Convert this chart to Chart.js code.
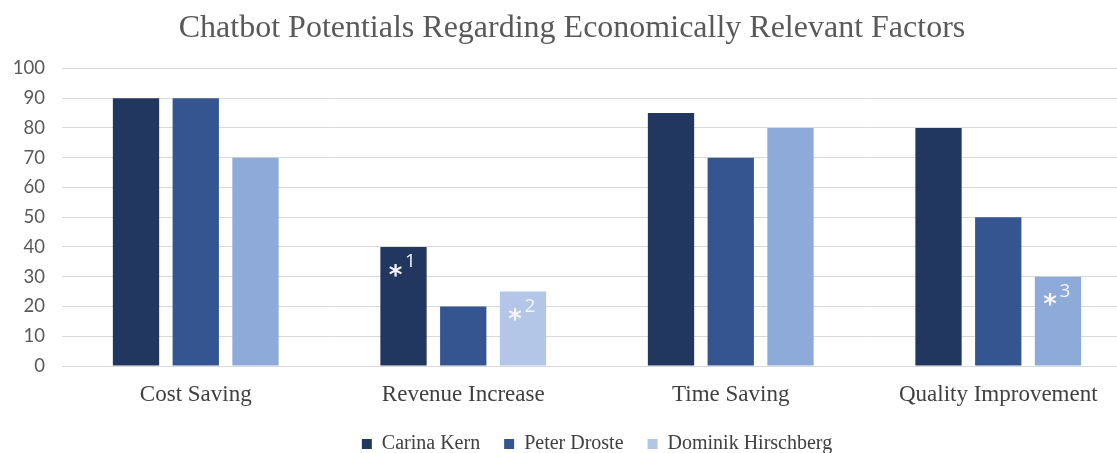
<!DOCTYPE html>
<html>
<head>
<meta charset="utf-8">
<script src="https://cdn.jsdelivr.net/npm/chart.js@4/dist/chart.umd.min.js"></script>
<style>
  html, body { margin: 0; padding: 0; background: #ffffff; overflow: hidden; }
  #wrap { width: 1132px; height: 453px; position: relative; }
</style>
</head>
<body>
<div id="wrap"><canvas id="chart"></canvas></div>
<script>
// Categories and scores per interviewee
const categories = ['Cost Saving', 'Revenue Increase', 'Time Saving', 'Quality Improvement'];
const carinaKern = [90, 40, 85, 80];
const peterDroste = [90, 20, 70, 50];
const dominikHirschberg = [70, 25, 80, 30];
const seriesNames = ['Carina Kern', 'Peter Droste', 'Dominik Hirschberg'];
const yTicks = [0, 10, 20, 30, 40, 50, 60, 70, 80, 90, 100];

// Footnote markers placed on specific bars: [datasetIndex, categoryIndex, number]
const footnotes = [[0, 1, '1'], [2, 1, '2'], [2, 3, '3']];

const colors = {
  carina: '#22375f',
  peter: '#355591',
  dominik: '#8eaad9',
  dominikLight: '#b4c6e7'
};

const footnotePlugin = {
  id: 'footnotes',
  afterDatasetsDraw(chart) {
    const ctx = chart.ctx;
    ctx.save();
    ctx.fillStyle = '#f4f4f4';
    ctx.textBaseline = 'middle';
    footnotes.forEach(([ds, idx, num]) => {
      const bar = chart.getDatasetMeta(ds).data[idx];
      const cx = bar.x, top = bar.y;
      ctx.textAlign = 'center';
      ctx.font = 'bold 26px "DejaVu Sans", sans-serif';
      ctx.fillText('*', cx - 8, top + 30);
      ctx.font = '19px "Open Sans", sans-serif';
      ctx.fillText(num, cx + 7, top + 15);
    });
    ctx.restore();
  }
};

new Chart(document.getElementById('chart'), {
  type: 'bar',
  data: {
    labels: categories,
    datasets: [
      { label: seriesNames[0], data: carinaKern, backgroundColor: colors.carina },
      { label: seriesNames[1], data: peterDroste, backgroundColor: colors.peter },
      { label: seriesNames[2], data: dominikHirschberg,
        backgroundColor: [colors.dominik, colors.dominikLight, colors.dominik, colors.dominik] }
    ]
  },
  options: {
    responsive: true,
    maintainAspectRatio: false,
    animation: false,
    datasets: { bar: { categoryPercentage: 0.67, barPercentage: 0.775 } },
    layout: { padding: { left: 12, right: 0, top: 0, bottom: -11 } },
    plugins: {
      title: {
        display: true,
        text: 'Chatbot Potentials Regarding Economically Relevant Factors',
        color: '#595959',
        font: { family: '"Liberation Serif", serif', size: 32, weight: 'normal' },
        padding: { top: 9, bottom: 21 },
        align: 'center',
        fullSize: true
      },
      legend: {
        position: 'bottom',
        fullSize: false,
        labels: {
          color: '#404040',
          font: { family: '"Liberation Serif", serif', size: 20 },
          boxWidth: 10, boxHeight: 10, padding: 24,
          generateLabels(chart) {
            const fills = [colors.carina, colors.peter, colors.dominikLight];
            return chart.data.datasets.map((d, i) => ({
              text: d.label, fillStyle: fills[i], strokeStyle: fills[i],
              lineWidth: 0, hidden: false, datasetIndex: i, fontColor: '#404040'
            }));
          }
        }
      },
      tooltip: { enabled: false }
    },
    scales: {
      x: {
        afterFit(scale) { scale.height = 44; },
        grid: { display: false, drawTicks: false },
        border: { display: false },
        ticks: {
          color: '#404040',
          font: { family: '"Liberation Serif", serif', size: 23 },
          padding: 15
        }
      },
      y: {
        min: 0, max: 100,
        afterBuildTicks(scale) { scale.ticks = yTicks.map(v => ({ value: v })); },
        afterFit(scale) { scale.width = 50; },
        grid: { color: '#d9d9d9', lineWidth: 1, drawTicks: false },
        border: { display: false },
        ticks: {
          color: '#595959',
          font: { family: 'Lato, sans-serif', size: 18.5 },
          padding: 17
        }
      }
    }
  },
  plugins: [footnotePlugin]
});
</script>
</body>
</html>
